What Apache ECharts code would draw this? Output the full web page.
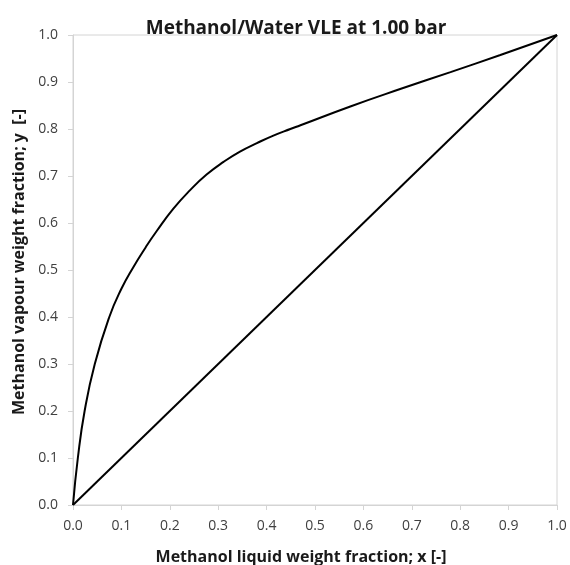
<!DOCTYPE html>
<html>
<head>
<meta charset="utf-8">
<script src="https://cdn.jsdelivr.net/npm/echarts@6/dist/echarts.min.js"></script>
<style>
html,body{margin:0;padding:0;background:#fff;}
#chart{width:570px;height:565px;}
</style>
</head>
<body>
<div id="chart"></div>
<script>
// Equilibrium curve (liquid weight fraction x -> vapour weight fraction y)
const eqX = [0, 0.01, 0.024, 0.045, 0.075, 0.1, 0.124, 0.15, 0.173, 0.207, 0.242, 0.276, 0.311, 0.345, 0.38, 0.414, 0.449, 0.47, 0.573, 0.676, 0.78, 0.883, 1.0];
const eqY = [0, 0.10, 0.20, 0.30, 0.40, 0.46, 0.505, 0.548, 0.583, 0.630, 0.670, 0.703, 0.730, 0.752, 0.770, 0.786, 0.800, 0.808, 0.848, 0.885, 0.921, 0.9575, 1.0];
// Diagonal y = x
const diagX = [0, 1];
const diagY = [0, 1];
const tickLabels = ['0.0','0.1','0.2','0.3','0.4','0.5','0.6','0.7','0.8','0.9','1.0'];

const titleText = 'Methanol/Water VLE at 1.00 bar';
const xTitle = 'Methanol liquid weight fraction; x [-]';
const yTitle = 'Methanol vapour weight fraction; y  [-]';

const FONT = '"Open Sans", "Noto Sans", sans-serif';
const chart = echarts.init(document.getElementById('chart'), null, {renderer: 'canvas'});

const axisCommon = {
  type: 'value', min: 0, max: 1, interval: 0.1,
  axisLine: {show: true, lineStyle: {color: '#d4d4d4', width: 1}},
  axisTick: {show: true, inside: false, length: 5, lineStyle: {color: '#d4d4d4'}},
  splitLine: {show: false},
  nameLocation: 'middle'
};

chart.setOption({
  animation: false,
  backgroundColor: '#ffffff',
  title: {
    text: titleText, left: 291, top: 14, textAlign: 'center',
    textStyle: {fontFamily: FONT, fontWeight: 'bold', fontSize: 19, color: '#1a1a1a'}
  },
  grid: {left: 73, right: 13, top: 35, bottom: 60, show: true, borderColor: '#d4d4d4', borderWidth: 1,
    containLabel: false, outerBoundsMode: 'none'},
  xAxis: Object.assign({}, axisCommon, {
    name: xTitle, nameGap: 44,
    nameTextStyle: {fontFamily: FONT, fontWeight: 'bold', fontSize: 16, color: '#1a1a1a', padding: [0, 28, 0, 0]},
    axisLabel: {margin: 14, fontFamily: FONT, fontSize: 14, color: '#404040',
      formatter: v => tickLabels[Math.round(v * 10)]}
  }),
  yAxis: Object.assign({}, axisCommon, {
    name: yTitle, nameGap: 43,
    nameTextStyle: {fontFamily: FONT, fontWeight: 'bold', fontSize: 16, color: '#1a1a1a', padding: [0, 0, 0, 16]},
    axisLabel: {margin: 15, fontFamily: FONT, fontSize: 14, color: '#404040',
      formatter: v => tickLabels[Math.round(v * 10)]}
  }),
  series: [
    {
      type: 'line', smooth: 0.5, showSymbol: false, symbol: 'none',
      lineStyle: {color: '#000', width: 2},
      data: eqX.map((x, i) => [x, eqY[i]])
    },
    {
      type: 'line', showSymbol: false, symbol: 'none',
      lineStyle: {color: '#000', width: 2},
      data: diagX.map((x, i) => [x, diagY[i]])
    }
  ]
});
</script>
</body>
</html>
